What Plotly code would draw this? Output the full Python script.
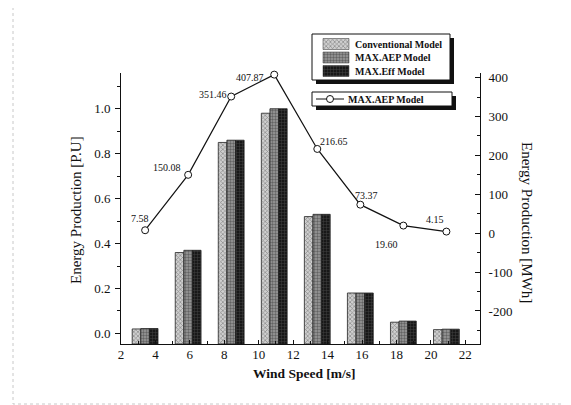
import plotly.graph_objects as go

# ---- data ----
wind_speed = [3.4, 5.9, 8.4, 10.9, 13.4, 15.9, 18.4, 20.9]
conventional = [0.02, 0.36, 0.85, 0.98, 0.52, 0.18, 0.05, 0.017]
max_aep = [0.022, 0.37, 0.86, 1.0, 0.53, 0.18, 0.055, 0.019]
max_eff = [0.022, 0.37, 0.86, 1.0, 0.53, 0.18, 0.055, 0.019]
aep_mwh = [7.58, 150.08, 351.46, 407.87, 216.65, 73.37, 19.60, 4.15]
aep_labels = ["7.58", "150.08", "351.46", "407.87", "216.65", "73.37", "19.60", "4.15"]
label_shift_x = [-5, -21, -18, -24, 17, 6, -17, -11]
label_shift_y = [12, 7, 2, -3, 7, 9, -19, 12]

left_ticks = [0.0, 0.2, 0.4, 0.6, 0.8, 1.0]
right_ticks = [-200, -100, 0, 100, 200, 300, 400]
x_ticks = [2, 4, 6, 8, 10, 12, 14, 16, 18, 20, 22]

Y_MIN, Y_MAX = -0.047, 1.159
Y2_MIN, Y2_MAX = -285, 412
X_MIN, X_MAX = 2, 22.85

# page body has an 8px margin, so the figure is drawn 8px in and down
OFF = 8
W, H = 571 - OFF, 405 - OFF
PL, PR, PT, PB = 121 - OFF, 480 - OFF, 73 - OFF, 344 - OFF  # plot area in figure pixels

FONT = "Liberation Serif"
INK = "#111"

bar_styles = [
    ("Conventional Model", conventional, "#cfcfcf", "x", "#404040", 0.4),
    ("MAX.AEP Model", max_aep, "#9c9c9c", ".", "#2a2a2a", 0.5),
    ("MAX.Eff Model", max_eff, "#181818", "+", "#6a6a6a", 0.3),
]

fig = go.Figure()

for name, vals, col, shp, fg, sol in bar_styles:
    fig.add_trace(go.Bar(
        x=wind_speed, y=[v - Y_MIN for v in vals], base=Y_MIN, name=name,
        marker=dict(color=col, line=dict(color="#222", width=0.8),
                    pattern=dict(shape=shp, fgcolor=fg, size=3, solidity=sol)),
        showlegend=False,
    ))

fig.add_trace(go.Scatter(
    x=wind_speed, y=aep_mwh, yaxis="y2", name="MAX.AEP Model",
    mode="lines+markers", cliponaxis=False,
    line=dict(color=INK, width=1.2),
    marker=dict(symbol="circle", size=7, color="white", line=dict(color=INK, width=1)),
    showlegend=False,
))

for xs, ys, t, dx, dy in zip(wind_speed, aep_mwh, aep_labels, label_shift_x, label_shift_y):
    fig.add_annotation(x=xs, y=ys, xref="x", yref="y2", text=t, showarrow=False,
                       xanchor="center", yanchor="middle",
                       xshift=dx, yshift=dy, font=dict(family=FONT, size=10, color=INK))

# ---- custom legends on a hidden pixel-space overlay (x3/y3), reference pixel coords ----
def px_rect(x0, y0, x1, y1, **kw):
    fig.add_shape(type="rect", xref="x3", yref="y3", x0=x0, x1=x1, y0=y0, y1=y1, **kw)

# outer dotted frame
px_rect(13, 4, 564, 404, line=dict(color="#c8c8c8", width=1, dash="dot"), layer="below")

# legend 1 box + shadow
px_rect(316, 38, 454, 84, fillcolor=INK, line=dict(width=0), layer="below")
px_rect(312, 34, 450, 80, fillcolor="white", line=dict(color=INK, width=1), layer="below")
# legend 2 box + shadow
px_rect(316, 96, 456, 110, fillcolor=INK, line=dict(width=0), layer="below")
px_rect(312, 92, 452, 106, fillcolor="white", line=dict(color=INK, width=1), layer="below")

entry_y = [44, 57.5, 71]
for (name, vals, col, shp, fg, sol), cy in zip(bar_styles, entry_y):
    x0, x1, y0, y1 = 323, 349, cy - 5.5, cy + 5.5
    fig.add_trace(go.Scatter(
        x=[x0, x1, x1, x0, x0], y=[y0, y0, y1, y1, y0], xaxis="x3", yaxis="y3",
        mode="lines", fill="toself", fillcolor=col,
        fillpattern=dict(shape=shp, fgcolor=fg, bgcolor=col, size=3, solidity=sol),
        line=dict(color="#333", width=0.5), hoverinfo="skip", showlegend=False,
    ))
    fig.add_annotation(x=353, y=cy, xref="x3", yref="y3", text="<b>%s</b>" % name,
                       xanchor="left", yanchor="middle", showarrow=False,
                       font=dict(family=FONT, size=10, color=INK))

fig.add_trace(go.Scatter(
    x=[316, 330, 344], y=[99, 99, 99], xaxis="x3", yaxis="y3", mode="lines",
    line=dict(color=INK, width=1), hoverinfo="skip", showlegend=False,
))
fig.add_trace(go.Scatter(
    x=[330], y=[99], xaxis="x3", yaxis="y3", mode="markers",
    marker=dict(symbol="circle", size=7, color="white", line=dict(color=INK, width=1)),
    hoverinfo="skip", showlegend=False,
))
fig.add_annotation(x=346, y=99, xref="x3", yref="y3", text="<b>MAX.AEP Model</b>",
                   xanchor="left", yanchor="middle", showarrow=False,
                   font=dict(family=FONT, size=10, color=INK))

# axis titles (reference pixel coords)
fig.add_annotation(x=304, y=373, xref="x3", yref="y3",
                   text="<b>Wind Speed [m/s]</b>", showarrow=False,
                   xanchor="center", yanchor="middle",
                   font=dict(family=FONT, size=13.5, color=INK))
fig.add_annotation(x=76, y=210, xref="x3", yref="y3",
                   text="Energy Production [P.U]", showarrow=False, textangle=-90,
                   xanchor="center", yanchor="middle",
                   font=dict(family=FONT, size=15, color=INK))
fig.add_annotation(x=527, y=222, xref="x3", yref="y3",
                   text="Energy Production [MWh]", showarrow=False, textangle=90,
                   xanchor="center", yanchor="middle",
                   font=dict(family=FONT, size=15, color=INK))

fig.update_layout(
    width=W, height=H,
    margin=dict(l=0, r=0, t=0, b=0, autoexpand=False),
    paper_bgcolor="white", plot_bgcolor="rgba(0,0,0,0)",
    barmode="group", bargap=0.4, bargroupgap=0,
    font=dict(family=FONT, size=13, color=INK),
    showlegend=False,
    xaxis=dict(domain=[PL / W, PR / W], anchor="y",
               range=[X_MIN, X_MAX], tickvals=x_ticks, ticks="inside", ticklen=4,
               tickcolor=INK, showline=True, linecolor=INK, linewidth=1,
               showgrid=False, zeroline=False,
               minor=dict(dtick=1, ticks="inside", ticklen=3, tickcolor=INK),
               tickfont=dict(family=FONT, size=13), ticklabelstandoff=-2),
    yaxis=dict(domain=[1 - PB / H, 1 - PT / H], anchor="x",
               range=[Y_MIN, Y_MAX], tickvals=left_ticks, tickformat=".1f",
               ticks="outside", ticklen=5, tickcolor=INK,
               showline=True, linecolor=INK, linewidth=1, showgrid=False, zeroline=False,
               minor=dict(dtick=0.1, ticks="outside", ticklen=3, tickcolor=INK),
               tickfont=dict(family=FONT, size=13), ticklabelstandoff=2),
    yaxis2=dict(range=[Y2_MIN, Y2_MAX], overlaying="y", side="right", anchor="x",
                tickvals=right_ticks, ticktext=[str(v) for v in right_ticks],
                ticks="inside", ticklen=5, tickcolor=INK,
                showline=True, linecolor=INK, linewidth=1, showgrid=False, zeroline=False,
                minor=dict(dtick=50, ticks="inside", ticklen=3, tickcolor=INK),
                tickfont=dict(family=FONT, size=13), ticklabelstandoff=5),
    xaxis3=dict(domain=[0, 1], range=[OFF, 571], anchor="y3", visible=False, fixedrange=True),
    yaxis3=dict(domain=[0, 1], range=[405, OFF], anchor="x3", visible=False, fixedrange=True),
)

fig.write_html("out.html")
